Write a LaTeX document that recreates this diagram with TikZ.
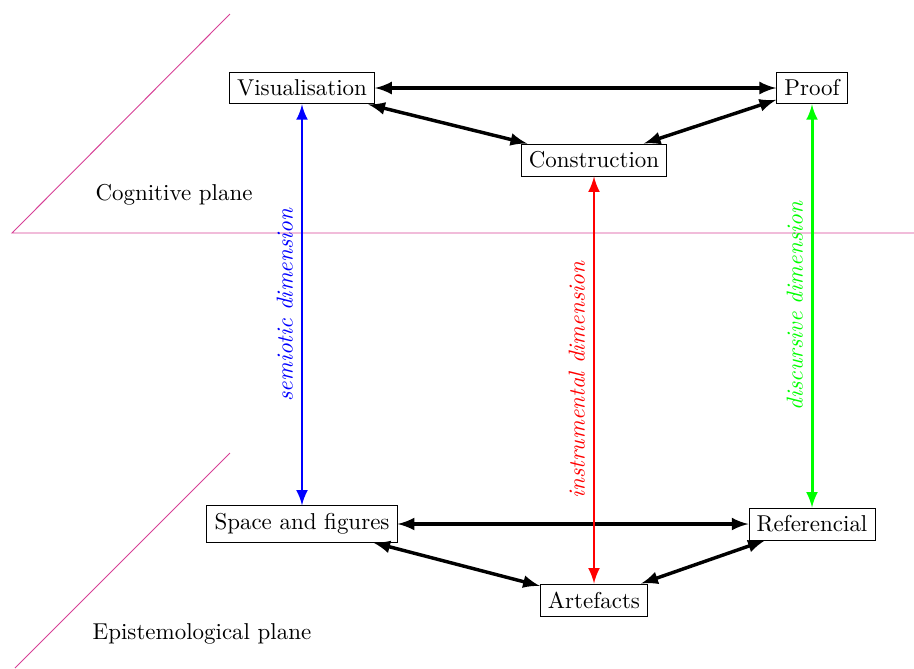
\documentclass[tikz,border=0pt]{standalone}
\usepackage{amsmath}
\usepackage{xcolor}
\usetikzlibrary{arrows}
\definecolor{planecol}{RGB}{214,64,150}

\begin{document}
\begin{tikzpicture}[x=0.0153cm, y=-0.0153cm, >=latex,
    pole/.style={draw, fill=white},
    link/.style={<->, line width=1.5pt},
    dimension/.style={<->, line width=1.3pt},
    plane/.style={planecol, thin}]

    \useasboundingbox (0,0) rectangle (914,668);

    \draw[plane] (230,14) -- (12,233) -- (914,233);
    \draw[plane] (230,453) -- (15,668);
    \node (cogn) at (174,195) {Cognitive plane};
    \node (epist) at (202,634) {Epistemological plane};

    \node[pole] (visu) at (302,88) {Visualisation};
    \node[pole] (proof) at (812,88) {Proof};
    \node[pole] (constr) at (594,160) {Construction};
    \node[pole] (space) at (302,524) {Space and figures};
    \node[pole] (ref) at (812,524) {Referencial};
    \node[pole] (arte) at (594,600) {Artefacts};

    \draw[link] (visu) -- (proof);
    \draw[link] (visu) -- (constr);
    \draw[link] (constr) -- (proof);
    \draw[link] (space) -- (ref);
    \draw[link] (space) -- (arte);
    \draw[link] (arte) -- (ref);

    \draw[dimension, blue] (space) -- (visu) node[midway, sloped, above] {\textit{semiotic dimension}};
    \draw[dimension, red] (arte) -- (constr) node[midway, sloped, above] {\textit{instrumental dimension}};
    \draw[dimension, green] (ref) -- (proof) node[midway, sloped, above] {\textit{discursive dimension}};

\end{tikzpicture}
\end{document}
